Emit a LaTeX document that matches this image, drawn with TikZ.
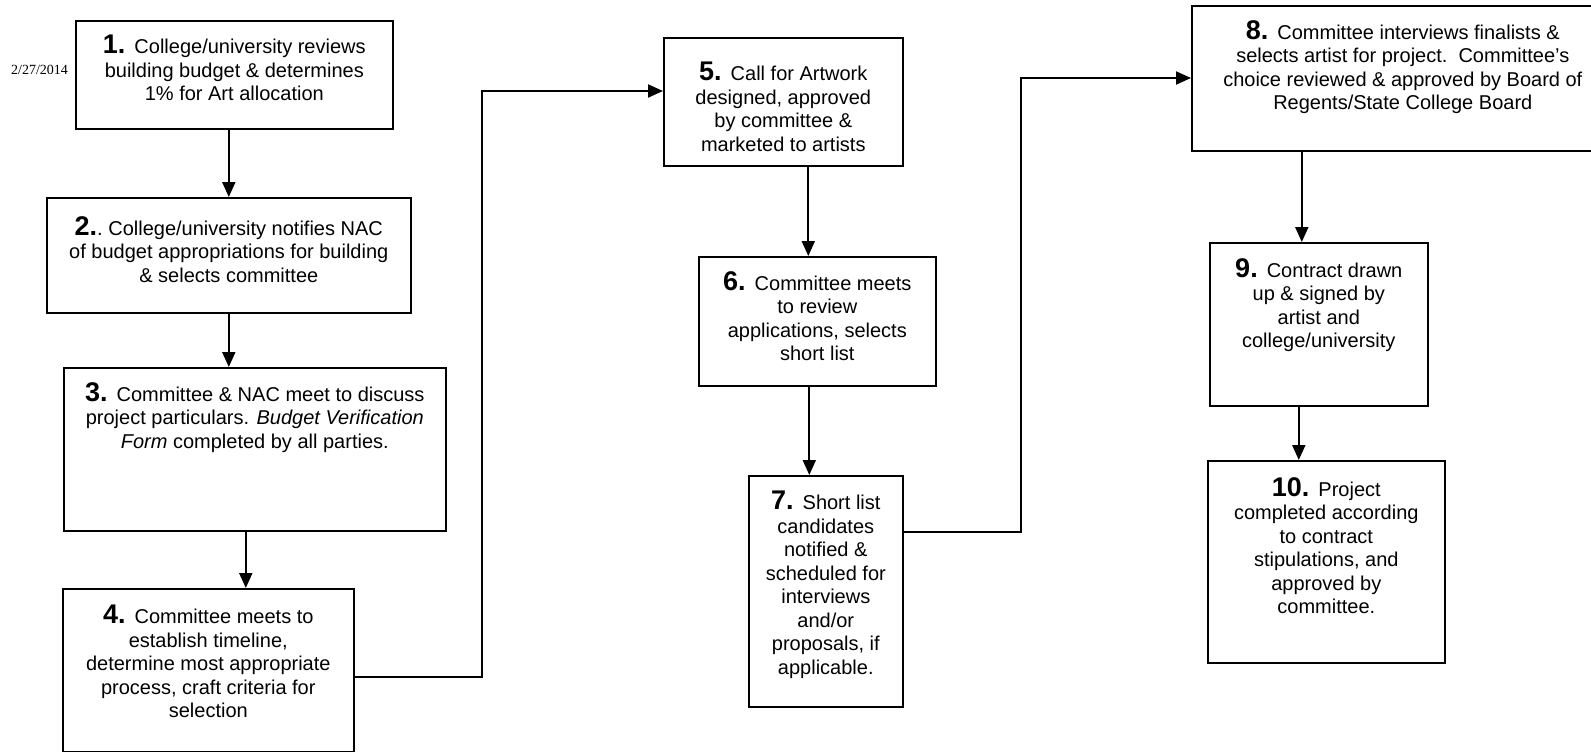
\documentclass[tikz,border=0pt]{standalone}
\usepackage{fontspec}
\setmainfont{Liberation Sans}
\newfontfamily\datefont{Liberation Serif}
\usetikzlibrary{positioning,arrows.meta}
\tikzset{step box/.style={draw, line width=1.6pt, anchor=north west, inner sep=0pt},
  step text/.style={align=center, inner sep=0pt, font=\fontsize{20}{23.5}\selectfont},
  flow/.style={line width=2pt, -{Triangle[length=15pt,width=13pt]}}}
\newcommand{\numfont}{\fontsize{27}{27}\selectfont\bfseries}
\newcommand{\stepno}[1]{{\numfont #1.}\hspace{9pt}}

\begin{document}
\begin{tikzpicture}[x=1pt,y=-1pt]
\useasboundingbox (0,0) rectangle (1591,752);

% Date stamp
\node[anchor=west, inner sep=0pt, font=\datefont\fontsize{14}{14}\selectfont] (date) at (11,70) {2/27/2014};

% Left column: steps 1 to 4
\node[step box, minimum width=317, minimum height=108] (b1) at (75,20) {};
\node[step text, below=15pt of b1.north] (t1) {\stepno{1}College/university reviews\\building budget \& determines\\1\% for Art allocation};

\node[step box, minimum width=364, minimum height=115] (b2) at (46,197) {};
\node[step text, below=19pt of b2.north] (t2) {{\numfont 2.}.\ College/university notifies NAC\\of budget appropriations for building\\\& selects committee};

\node[step box, minimum width=382, minimum height=163] (b3) at (63,367) {};
\node[step text, below=15pt of b3.north] (t3) {\stepno{3}Committee \& NAC meet to discuss\\project particulars. \textit{Budget Verification}\\\textit{Form} completed by all parties.};

\node[step box, minimum width=291, minimum height=163] (b4) at (62,588) {};
\node[step text, below=17pt of b4.north] (t4) {\stepno{4}Committee meets to\\establish timeline,\\determine most appropriate\\process, craft criteria for\\selection};

% Middle column: steps 5 to 7
\node[step box, minimum width=239, minimum height=128] (b5) at (663,37) {};
\node[step text, below=25pt of b5.north] (t5) {\stepno{5}Call for Artwork\\designed, approved\\by committee \&\\marketed to artists};

\node[step box, minimum width=237, minimum height=129] (b6) at (698,256) {};
\node[step text, below=15pt of b6.north] (t6) {\stepno{6}Committee meets\\to review\\applications, selects\\short list};

\node[step box, minimum width=154, minimum height=231] (b7) at (748,475) {};
\node[step text, below=16pt of b7.north] (t7) {\stepno{7}Short list\\candidates\\notified \&\\scheduled for\\interviews\\and/or\\proposals, if\\applicable.};

% Right column: steps 8 to 10
\node[step box, minimum width=422, minimum height=145] (b8) at (1191,5) {};
\node[step text, below=15pt of b8.north] (t8) {\stepno{8}Committee interviews finalists \&\\selects artist for project.\ \ Committee's\\choice reviewed \& approved by Board of\\Regents/State College Board};

\node[step box, minimum width=218, minimum height=163] (b9) at (1209,242) {};
\node[step text, below=16pt of b9.north] (t9) {\stepno{9}Contract drawn\\up \& signed by\\artist and\\college/university};

\node[step box, minimum width=237, minimum height=202] (b10) at (1207,460) {};
\node[step text, below=17pt of b10.north] (t10) {\stepno{10}Project\\completed according\\to contract\\stipulations, and\\approved by\\committee.};

\coordinate (j45) at (482,91);
\coordinate (j78) at (1021,78);

% Arrows
\draw[flow] (b2.north |- b1.south) -- (b2.north);
\draw[flow] (b2.south) -- (b2.south |- b3.north);
\draw[flow] ([xshift=-9]b3.south) -- ([xshift=-9]b3.south |- b4.north);
\draw[flow] ([yshift=-7]b4.east) -| (j45) -- (j45 -| b5.west);
\draw[flow] ([xshift=25]b5.south) -- ([xshift=25]b5.south |- b6.north);
\draw[flow] ([xshift=-8]b6.south) -- ([xshift=-8]b6.south |- b7.north);
\draw[flow] ([yshift=59]b7.east) -| (j78) -- (j78 -| b8.west);
\draw[flow] ([xshift=-17]b9.north |- b8.south) -- ([xshift=-17]b9.north);
\draw[flow] ([xshift=-20]b9.south) -- ([xshift=-20]b9.south |- b10.north);

\end{tikzpicture}
\end{document}
